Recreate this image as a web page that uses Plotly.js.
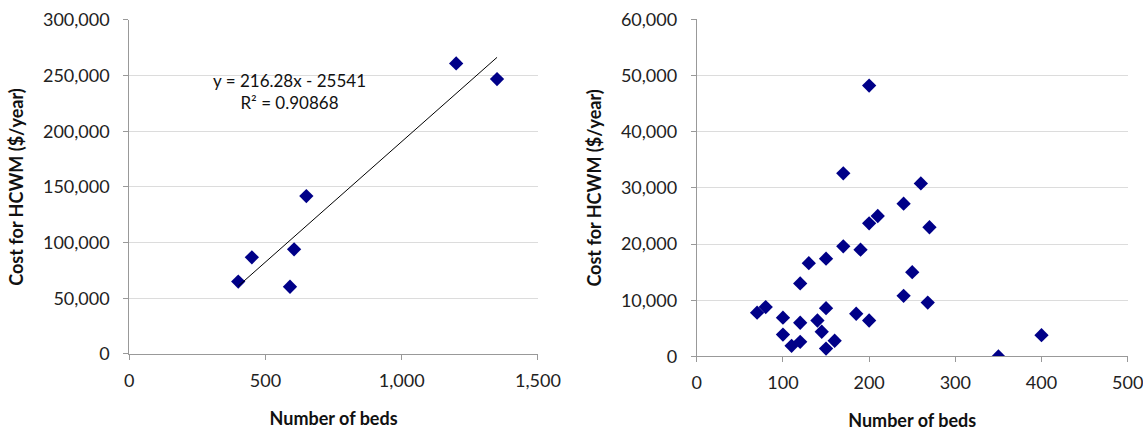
<!DOCTYPE html>
<html>
<head>
<meta charset="utf-8">
<script src="https://cdn.plot.ly/plotly-3.0.1.min.js"></script>
<style>html,body{margin:0;padding:0;background:#fff}#chart{width:1143px;height:431px}</style>
</head>
<body>
<div id="chart"></div>
<script>
// Left panel: large hospitals
const bedsA = [400, 450, 590, 605, 650, 1200, 1350];
const costA = [65000, 86800, 60400, 94000, 141800, 261000, 246900];
// Linear trend line (as shown in the chart)
const slopeA = 216.28, interceptA = -25541;
const trendLabel = ["y = 216.28x - 25541", "R² = 0.90868"];

// Right panel: smaller hospitals
const bedsB = [70, 80, 100, 100, 110, 120, 120, 120, 130, 140, 145, 150, 150, 150, 160, 170, 170, 185, 190, 200, 200, 200, 210, 240, 240, 250, 260, 268, 270, 350, 400];
const costB = [7800, 8800, 6900, 3900, 1900, 2600, 6000, 13000, 16600, 6400, 4400, 8600, 1400, 17400, 2800, 19600, 32600, 7600, 19000, 6400, 23700, 48200, 25000, 10800, 27200, 15000, 30800, 9600, 23000, 0, 3800];

const xTitle = "Number of beds";
const yTitle = "Cost for HCWM ($/year)";

const trendX = [Math.min(...bedsA), Math.max(...bedsA)];
const trendY = trendX.map(x => slopeA * x + interceptA);

const FONT = "Lato, 'Open Sans', sans-serif";
const markerStyle = {symbol: 'diamond', size: 11, color: '#000088'};

const traces = [
  {x: bedsA, y: costA, type: 'scatter', mode: 'markers', marker: markerStyle, xaxis: 'x', yaxis: 'y', hoverinfo: 'x+y'},
  {x: trendX, y: trendY, type: 'scatter', mode: 'lines', line: {color: '#000', width: 1}, xaxis: 'x', yaxis: 'y'},
  {x: bedsB, y: costB, type: 'scatter', mode: 'markers', marker: markerStyle, xaxis: 'x2', yaxis: 'y2', hoverinfo: 'x+y'}
];

const axisCommon = {
  showline: true, linecolor: '#999', linewidth: 1,
  ticks: 'outside', ticklen: 5, tickcolor: '#999',
  tickfont: {family: FONT, size: 18, color: '#222'},
  tickformat: ',', zeroline: false, fixedrange: true,
  ticklabeloverflow: 'allow'
};
const titleFont = {family: FONT, size: 18, color: '#111', weight: 'bold'};

const layout = {
  width: 1143, height: 431,
  margin: {l: 0, r: 0, t: 0, b: 0},
  paper_bgcolor: '#fff', plot_bgcolor: '#fff',
  showlegend: false,
  xaxis: Object.assign({}, axisCommon, {
    domain: [0.1131, 0.4706], range: [0, 1500], dtick: 500, showgrid: false, anchor: 'y',
    ticklabelstandoff: 5,
    title: {text: xTitle, font: titleFont, standoff: 22}
  }),
  yaxis: Object.assign({}, axisCommon, {
    domain: [0.1787, 0.9536], range: [0, 300000], dtick: 50000, showgrid: true, gridcolor: '#dcdcdc', anchor: 'x',
    ticklabelstandoff: 10,
    title: {text: yTitle, font: titleFont, standoff: 14}
  }),
  xaxis2: Object.assign({}, axisCommon, {
    domain: [0.6096, 0.9866], range: [0, 500], dtick: 100, showgrid: false, anchor: 'y2',
    ticklabelstandoff: 5,
    title: {text: xTitle, font: titleFont, standoff: 22}
  }),
  yaxis2: Object.assign({}, axisCommon, {
    domain: [0.1729, 0.9552], range: [0, 60000], dtick: 10000, showgrid: true, gridcolor: '#dcdcdc', anchor: 'x2',
    ticklabelstandoff: 10,
    title: {text: yTitle, font: titleFont, standoff: 14}
  }),
  annotations: [
    {xref: 'x', yref: 'y', x: 590, y: 235500, text: trendLabel[0] + '<br>' + trendLabel[1], showarrow: false,
     font: {family: FONT, size: 17, color: '#111'}, align: 'center'}
  ]
};

Plotly.newPlot('chart', traces, layout, {displayModeBar: false, staticPlot: true});
</script>
</body>
</html>
